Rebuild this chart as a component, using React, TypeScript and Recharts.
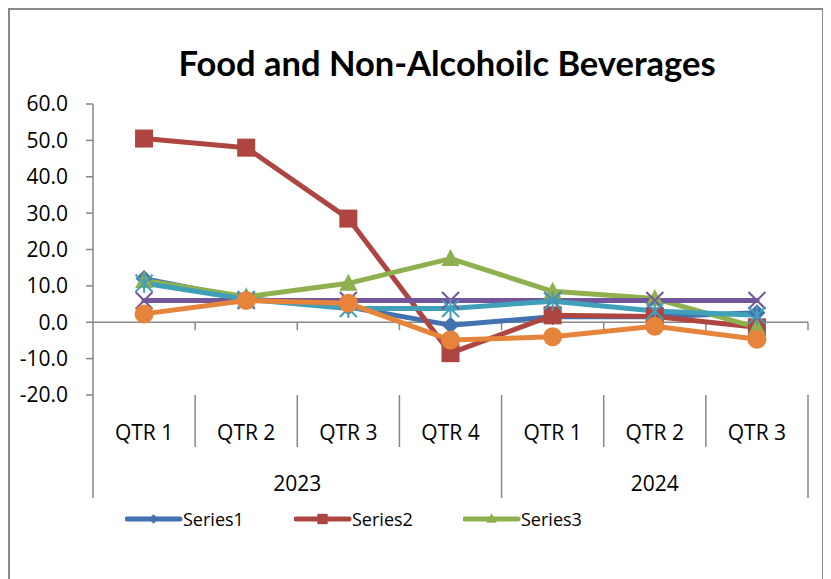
import React from "react";
import { LineChart, Line, XAxis, YAxis, ReferenceLine, Legend } from "recharts";

// categories: two-level axis (year / quarter)
const years = ["2023", "2023", "2023", "2023", "2024", "2024", "2024"];
const quarters = ["QTR 1", "QTR 2", "QTR 3", "QTR 4", "QTR 1", "QTR 2", "QTR 3"];

// values
const series1 = [12.0, 6.5, 4.2, -0.8, 1.5, 1.5, 2.6];
const series2 = [50.5, 48.0, 28.5, -8.5, 1.9, 1.6, -1.4];
const series3 = [11.5, 7.0, 10.7, 17.5, 8.5, 6.5, -1.4];
const series4 = [6.0, 6.0, 6.0, 6.0, 6.0, 6.0, 6.0];
const series5 = [10.7, 6.3, 3.8, 3.8, 5.8, 3.1, 1.9];
const series6 = [2.3, 6.0, 5.2, -4.9, -4.0, -1.1, -4.7];

const yTicks = [-20, -10, 0, 10, 20, 30, 40, 50, 60];
const legendShown = ["Series1", "Series2", "Series3"];

const seriesNames = ["Series1", "Series2", "Series3", "Series4", "Series5", "Series6"];
const seriesColors = ["#4272B0", "#AE4541", "#8FB04E", "#73559A", "#40A0BA", "#E5843A"];
const seriesMarkers = ["diamond", "square", "triangle", "x", "star", "circle"];
const seriesValues = [series1, series2, series3, series4, series5, series6];

const rows = quarters.map((q, i) => {
  const row: Record<string, any> = { key: `${years[i]} ${q}`, year: years[i], quarter: q };
  seriesNames.forEach((n, s) => (row[n] = seriesValues[s][i]));
  return row;
});

const AXIS = "#878787";
const FONT = "'Open Sans', sans-serif";

function drawMarker(kind: string, color: string, cx: number, cy: number, k: any, scale = 1) {
  const h = 8.5 * scale;
  switch (kind) {
    case "diamond":
      return (
        <polygon key={k} points={`${cx},${cy - h} ${cx + h},${cy} ${cx},${cy + h} ${cx - h},${cy}`} fill={color} />
      );
    case "square":
      return <rect key={k} x={cx - h - 0.5} y={cy - h - 0.5} width={2 * h + 1} height={2 * h + 1} fill={color} />;
    case "triangle":
      return (
        <polygon key={k} points={`${cx},${cy - h - 1} ${cx + h + 0.5},${cy + h - 1} ${cx - h - 0.5},${cy + h - 1}`} fill={color} />
      );
    case "x":
      return (
        <g key={k} stroke={color} strokeWidth={2}>
          <line x1={cx - h} y1={cy - h} x2={cx + h} y2={cy + h} />
          <line x1={cx - h} y1={cy + h} x2={cx + h} y2={cy - h} />
        </g>
      );
    case "star":
      return (
        <g key={k} stroke={color} strokeWidth={2}>
          <line x1={cx - h} y1={cy - h} x2={cx + h} y2={cy + h} />
          <line x1={cx - h} y1={cy + h} x2={cx + h} y2={cy - h} />
          <line x1={cx} y1={cy - h - 1} x2={cx} y2={cy + h + 1} />
        </g>
      );
    default:
      return <circle key={k} cx={cx} cy={cy} r={h + 1} fill={color} />;
  }
}

const makeDot = (kind: string, color: string) => (p: any) => {
  if (p.cx == null || p.cy == null) return <g key={p.index} />;
  return drawMarker(kind, color, p.cx, p.cy, `${kind}-${p.index}`);
};

// quarter labels, year labels and separator lines under the plot
function CategoryTick(props: any) {
  const { x, y, index, width, visibleTicksCount } = props;
  const band = width / visibleTicksCount;
  const left = x - band / 2;
  const newYear = index === 0 || years[index] !== years[index - 1];
  const isLast = index === visibleTicksCount - 1;
  let span = 0;
  if (newYear) {
    while (index + span < years.length && years[index + span] === years[index]) span++;
  }
  return (
    <g>
      <line x1={left} x2={left} y1={y} y2={y + (newYear ? 103 : 52)} stroke={AXIS} strokeWidth={1.5} />
      {isLast && <line x1={left + band} x2={left + band} y1={y} y2={y + 103} stroke={AXIS} strokeWidth={1.5} />}
      <text x={x} y={y + 45} textAnchor="middle" fontSize={21} fontFamily={FONT} fill="#000">
        {quarters[index]}
      </text>
      {newYear && (
        <text x={left + (span * band) / 2} y={y + 96} textAnchor="middle" fontSize={21} fontFamily={FONT} fill="#000">
          {years[index]}
        </text>
      )}
    </g>
  );
}

// horizontal axis line at zero with boundary tick marks
function ZeroAxis(props: any) {
  const { x1, x2, y1 } = props;
  const step = (x2 - x1) / quarters.length;
  return (
    <g>
      <line x1={x1} x2={x2} y1={y1} y2={y1} stroke={AXIS} strokeWidth={1.5} />
      {quarters.map((_, i) => (
        <line key={i} x1={x1 + step * (i + 1)} x2={x1 + step * (i + 1)} y1={y1} y2={y1 + 8} stroke={AXIS} strokeWidth={1.5} />
      ))}
    </g>
  );
}

function LegendContent() {
  return (
    <div style={{ height: 22, display: "flex", paddingLeft: 115, fontFamily: FONT, fontSize: 18, color: "#000" }}>
      {legendShown.map((name) => {
        const s = seriesNames.indexOf(name);
        return (
          <div key={name} style={{ width: 169, display: "flex", alignItems: "center" }}>
            <svg width={58} height={22}>
              <line x1={2} x2={55} y1={11} y2={11} stroke={seriesColors[s]} strokeWidth={5} strokeLinecap="round" />
              {drawMarker(seriesMarkers[s], seriesColors[s], 28.5, 11, name, 0.55)}
            </svg>
            <span style={{ lineHeight: "22px" }}>{name}</span>
          </div>
        );
      })}
    </div>
  );
}

export default function App() {
  return (
    <div style={{ position: "relative", width: 812, height: 580, border: "2px solid #8a8a8a", background: "#fff" }}>
      <div
        style={{
          position: "absolute",
          left: 437,
          top: 33,
          transform: "translateX(-50%)",
          whiteSpace: "nowrap",
          fontFamily: "Lato, sans-serif",
          fontWeight: 700,
          fontSize: 34.5,
          lineHeight: "40px",
          color: "#000",
        }}
      >
        Food and Non-Alcohoilc Beverages
      </div>
      <LineChart width={812} height={570} data={rows} margin={{ top: 94, right: 14, left: 0, bottom: 50 }}>
        <YAxis
          width={83}
          domain={[-20, 60]}
          ticks={yTicks}
          interval={0}
          tickFormatter={(v: number) => v.toFixed(1)}
          tick={{ fontSize: 21, fontFamily: FONT, fill: "#000" }}
          tickSize={7}
          tickMargin={18}
          stroke={AXIS}
          strokeWidth={1.5}
        />
        <XAxis
          dataKey="key"
          scale="band"
          height={113}
          interval={0}
          axisLine={false}
          tickLine={false}
          tickSize={0}
          tickMargin={0}
          tick={<CategoryTick />}
        />
        <ReferenceLine y={0} shape={<ZeroAxis />} ifOverflow="visible" />
        {seriesNames.map((name, s) => (
          <Line
            key={name}
            dataKey={name}
            name={name}
            stroke={seriesColors[s]}
            strokeWidth={5}
            strokeLinecap="round"
            strokeLinejoin="round"
            dot={makeDot(seriesMarkers[s], seriesColors[s])}
            activeDot={false}
            isAnimationActive={false}
          />
        ))}
        <Legend verticalAlign="bottom" content={<LegendContent />} />
      </LineChart>
    </div>
  );
}
